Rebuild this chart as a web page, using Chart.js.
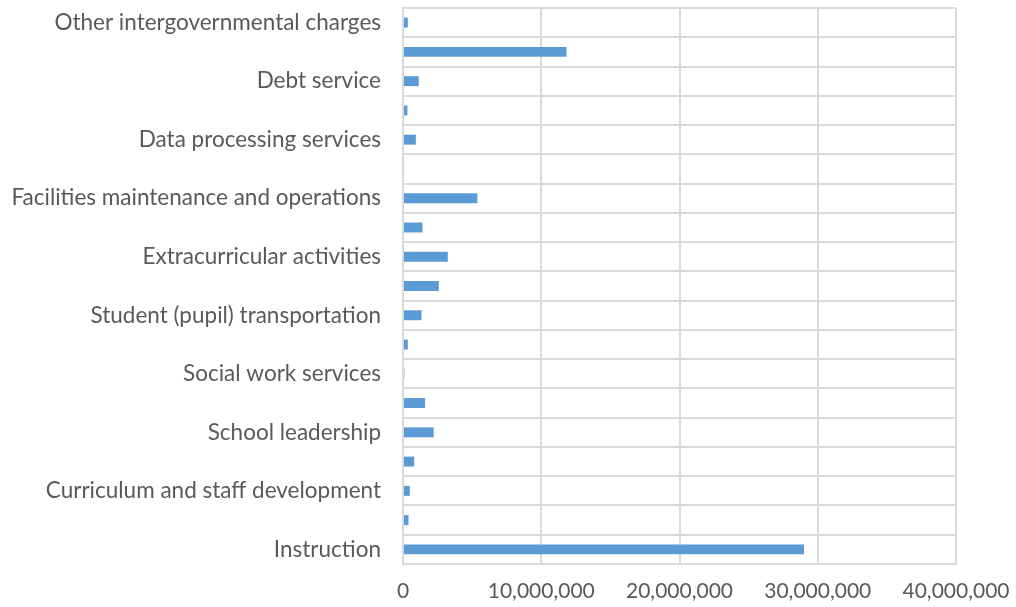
<!DOCTYPE html>
<html>
<head>
<meta charset="utf-8">
<script src="https://cdn.jsdelivr.net/npm/chart.js@4/dist/chart.umd.min.js"></script>
<style>
  html, body { margin: 0; padding: 0; background: #fff; }
  #wrap { width: 1016px; height: 607px; }
</style>
</head>
<body>
<div id="wrap"><canvas id="chart"></canvas></div>
<script>
// categories, bottom to top
const categories = [
  'Instruction',
  'Instructional resources and media services',
  'Curriculum and staff development',
  'Instructional leadership',
  'School leadership',
  'Guidance, counseling and evaluation services',
  'Social work services',
  'Health services',
  'Student (pupil) transportation',
  'Food services',
  'Extracurricular activities',
  'General administration',
  'Facilities maintenance and operations',
  'Security and monitoring services',
  'Data processing services',
  'Community services',
  'Debt service',
  'Facilities acquisition and construction',
  'Other intergovernmental charges'
];
const expenditures = [
  29010000, 400000, 490000, 810000, 2220000, 1600000, 100000, 350000,
  1340000, 2590000, 3240000, 1410000, 5380000, 80000, 930000, 320000,
  1140000, 11830000, 350000
];
const xTicks = [0, 10000000, 20000000, 30000000, 40000000];

const gridColor = '#d9d9d9';
const textColor = '#595959';

new Chart(document.getElementById('chart').getContext('2d'), {
  type: 'bar',
  data: {
    labels: categories,
    datasets: [{
      label: 'Expenditures',
      data: expenditures,
      backgroundColor: '#5b9bd5',
      borderWidth: 0,
      barPercentage: 0.68,
      categoryPercentage: 0.5
    }]
  },
  options: {
    indexAxis: 'y',
    responsive: true,
    maintainAspectRatio: false,
    animation: false,
    layout: { padding: { top: 8, right: 60, left: 0, bottom: 0 } },
    plugins: { legend: { display: false }, tooltip: { enabled: false } },
    scales: {
      x: {
        min: 0,
        max: 40000000,
        afterBuildTicks: (axis) => { axis.ticks = xTicks.map(v => ({ value: v })); },
        afterFit: (axis) => {
          axis.height = 43;
          axis.paddingLeft = 0;
          axis.paddingRight = 0;
        },
        grid: { color: gridColor, lineWidth: 2, drawTicks: false },
        border: { display: false },
        ticks: {
          color: textColor,
          font: { family: 'Lato', size: 21 },
          padding: 15,
          maxRotation: 0,
          callback: (v) => v.toLocaleString('en-US')
        }
      },
      y: {
        reverse: true,
        afterFit: (axis) => {
          axis.width = 403;
          axis.paddingTop = 0;
          axis.paddingBottom = 0;
        },
        grid: { color: gridColor, lineWidth: 2, offset: true, drawTicks: false },
        border: { color: gridColor, width: 2 },
        ticks: {
          color: textColor,
          font: { family: 'Lato', size: 22.5 },
          padding: 22,
          autoSkip: false,
          callback: function (v, i) { return i % 2 === 0 ? this.getLabelForValue(v) : ''; }
        }
      }
    }
  }
});
</script>
</body>
</html>
